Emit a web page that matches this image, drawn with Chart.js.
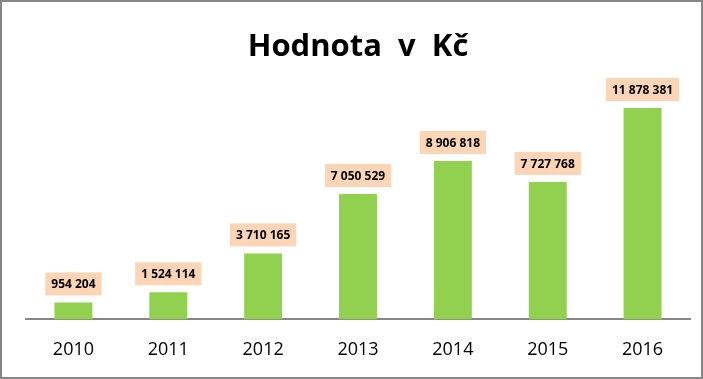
<!DOCTYPE html>
<html>
<head>
<meta charset="utf-8">
<script src="https://cdn.jsdelivr.net/npm/chart.js@4/dist/chart.umd.min.js"></script>
<style>
  html, body { margin: 0; padding: 0; background: #fff; }
  #wrap { width: 703px; height: 379px; box-sizing: border-box; border: 2px solid #868686; position: relative; }
  canvas { display: block; }
</style>
</head>
<body>
<div id="wrap"><canvas id="chart" width="699" height="375"></canvas></div>
<script>
// data
const years = ['2010', '2011', '2012', '2013', '2014', '2015', '2016'];
const values = [954204, 1524114, 3710165, 7050529, 8906818, 7727768, 11878381];
const chartTitle = 'Hodnota  v  Kč';

const BAR_COLOR = '#92d050';
const LABEL_BG = '#fbd5b5';

function fmt(n) {
  return String(n).replace(/\B(?=(\d{3})+(?!\d))/g, ' ');
}

// labels in peach boxes above bars
const boxLabels = {
  id: 'boxLabels',
  afterDatasetsDraw(chart) {
    const ctx = chart.ctx;
    const meta = chart.getDatasetMeta(0);
    ctx.save();
    ctx.font = 'bold 12px "Open Sans", sans-serif';
    ctx.textAlign = 'center';
    ctx.textBaseline = 'middle';
    meta.data.forEach((bar, i) => {
      const txt = fmt(values[i]);
      const w = ctx.measureText(txt).width + 12;
      const h = 23;
      const cx = bar.x;
      const bottom = bar.y - 7;
      ctx.fillStyle = LABEL_BG;
      ctx.fillRect(cx - w / 2, bottom - h, w, h);
      ctx.fillStyle = '#000';
      ctx.fillText(txt, cx, bottom - h / 2 + 1);
    });
    ctx.restore();
  }
};

const chart = new Chart(document.getElementById('chart'), {
  type: 'bar',
  data: {
    labels: years,
    datasets: [{
      data: values,
      backgroundColor: BAR_COLOR,
      barPercentage: 0.8,
      categoryPercentage: 0.5
    }]
  },
  options: {
    responsive: false,
    animation: false,
    layout: { padding: { left: 24, right: 11, top: 0, bottom: -4 } },
    plugins: {
      legend: { display: false },
      tooltip: { enabled: false },
      title: {
        display: true,
        text: chartTitle,
        color: '#000',
        font: { family: '"Open Sans", sans-serif', size: 31, weight: 'bold' },
        padding: { top: 27, bottom: 5 }
      }
    },
    scales: {
      x: {
        grid: { display: false, drawTicks: false },
        border: { display: true, color: '#868686', width: 2 },
        ticks: { color: '#000', font: { family: '"Open Sans", sans-serif', size: 18 }, padding: 20 }
      },
      y: {
        display: false,
        min: 0,
        max: 13950000
      }
    }
  },
  plugins: [boxLabels]
});
</script>
</body>
</html>
